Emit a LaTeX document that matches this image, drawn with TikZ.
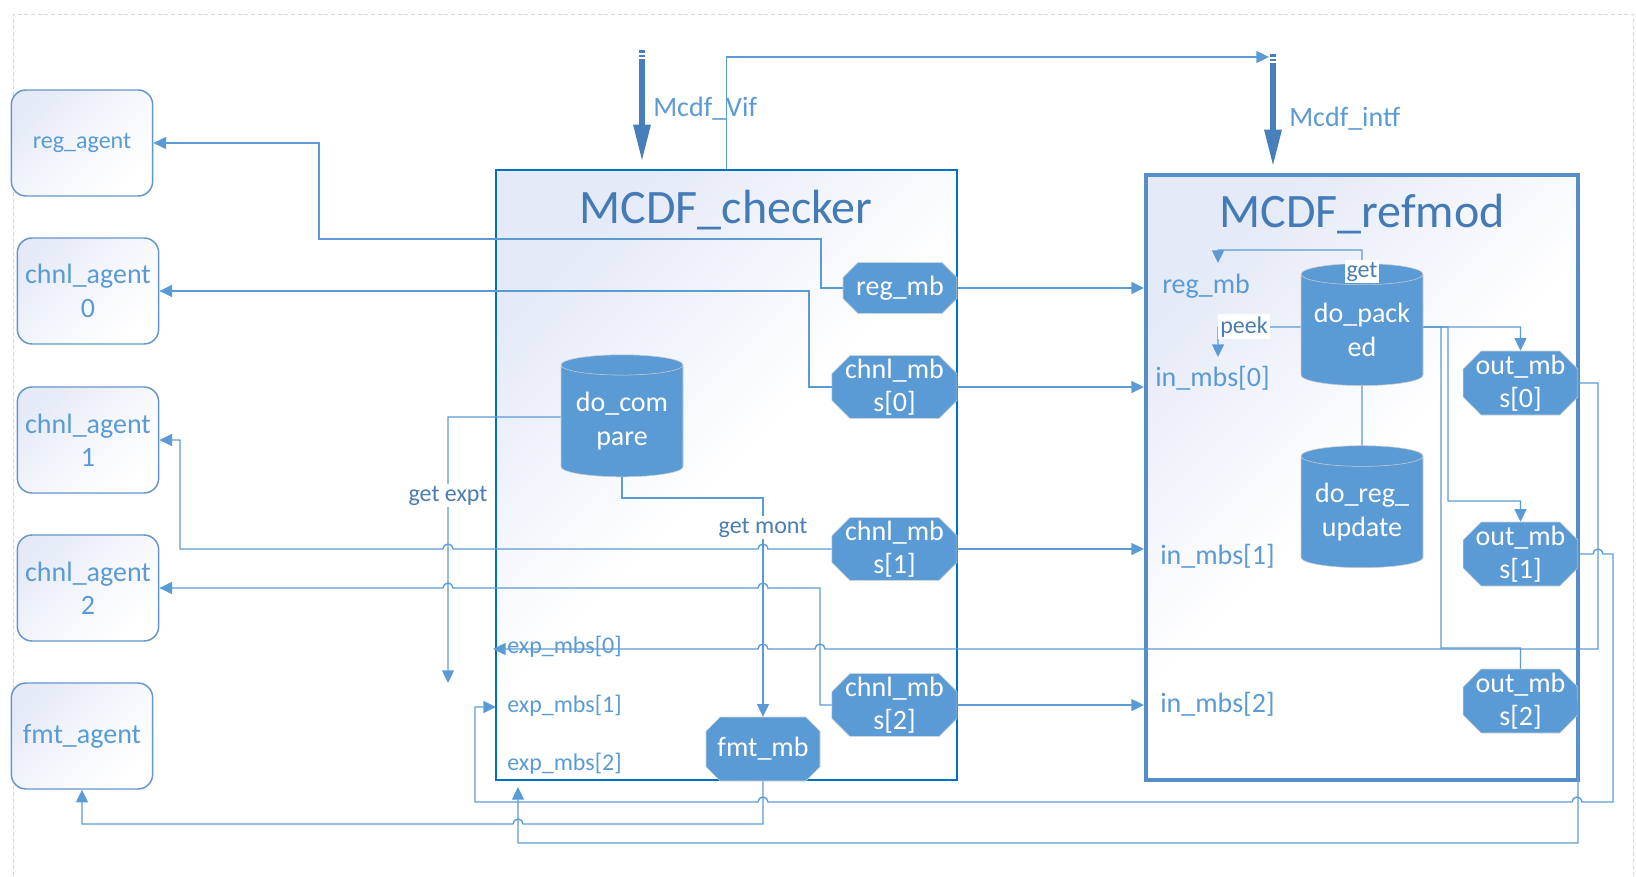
\documentclass[tikz,border=0pt]{standalone}
\usepackage{fontspec}
\setmainfont{Carlito}
\usetikzlibrary{arrows.meta,shapes.geometric,shapes.misc}

\definecolor{lineblue}{RGB}{91,155,213}
\definecolor{boxblue}{RGB}{91,155,213}
\definecolor{titleblue}{RGB}{68,122,182}
\definecolor{chkborder}{RGB}{0,112,192}
\definecolor{refborder}{RGB}{84,141,199}
\definecolor{ifblue}{RGB}{70,127,186}
\definecolor{lavender}{RGB}{228,234,247}
\definecolor{tagblue}{RGB}{75,125,175}
\definecolor{agentline}{RGB}{100,150,205}
\definecolor{framegray}{RGB}{215,215,215}

% little bumps where a line jumps over another one
\newcommand{\hopL}{arc[start angle=0,end angle=180,radius=3.75pt]}
\newcommand{\hopR}{arc[start angle=180,end angle=0,radius=3.75pt]}

\begin{document}
\begin{tikzpicture}[x=0.75pt, y=-0.75pt, line join=miter,
  ftitle/.style={font=\fontsize{36pt}{40pt}\selectfont, text=titleblue, inner sep=0pt},
  fmid/.style={font=\fontsize{21pt}{25pt}\selectfont},
  fsmall/.style={font=\fontsize{18pt}{21pt}\selectfont},
  conn/.style={draw=lineblue, line width=1pt},
  arr/.style={conn, -{Triangle[length=9.5pt,width=9pt]}},
  ifarrow/.style={draw=ifblue, line width=4.5pt, -{Triangle[length=28pt,width=12pt]}},
  agent/.style={draw=agentline, line width=1.1pt, rounded corners=11pt,
    minimum width=106pt, minimum height=79.5pt, top color=lavender,
    bottom color=white, middle color=white!60!lavender, shading angle=45,
    text=lineblue, align=center, inner sep=0pt},
  bigbox/.style={top color=lavender, bottom color=white, middle color=white,
    shading angle=45, inner sep=0pt},
  mbox/.style={chamfered rectangle, chamfered rectangle xsep=6.5pt,
    chamfered rectangle ysep=7pt, fill=boxblue, draw=gray!35, text=white,
    fmid, align=center, inner xsep=0pt, inner ysep=-5pt},
  store/.style={cylinder, shape border rotate=90, aspect=0.22,
    minimum width=91.5pt, minimum height=91.5pt, fill=boxblue, draw=gray!40,
    text=white, fmid, align=center, inner sep=0pt},
  inlabel/.style={fmid, text=lineblue, anchor=base west, inner sep=0pt},
  explabel/.style={fsmall, text=lineblue, anchor=base west, inner sep=0pt},
  tag/.style={fsmall, text=tagblue, fill=white, anchor=base, inner sep=1.5pt}
]
  \useasboundingbox (0,0) rectangle (1636,876);
  \draw[framegray, dash pattern=on 3pt off 2pt, line width=0.6pt]
    (13,876) -- (13,14) -- (1633,14) -- (1633,876);

  % agents
  \node[agent, fsmall] (regag) at (82,143) {reg\_agent};
  \node[agent, fmid] (ag0) at (88,291) {chnl\_agent\\0};
  \node[agent, fmid] (ag1) at (88,440) {chnl\_agent\\1};
  \node[agent, fmid] (ag2) at (88,588) {chnl\_agent\\2};
  \node[agent, fmid] (fmtag) at (82,736) {fmt\_agent};

  % checker and refmod
  \node[bigbox, draw=chkborder, line width=1.8pt, minimum width=345.75pt,
    minimum height=457.5pt] (checker) at (726.5,475) {};
  \node[bigbox, draw=refborder, line width=3pt, minimum width=324pt,
    minimum height=453.75pt] (refmod) at (1362,477.5) {};
  \node[ftitle, anchor=base] (chktitle) at (726,223) {MCDF\_checker};
  \node[ftitle, anchor=base] (reftitle) at (1362,227) {MCDF\_refmod};

  % mailboxes in checker
  \node[mbox, minimum width=85.5pt, minimum height=38pt] (regmb) at (900,288) {reg\_mb};
  \node[mbox, minimum width=94pt, minimum height=47pt] (chmb0) at (894.5,387) {chnl\_mb\\s[0]};
  \node[mbox, minimum width=94pt, minimum height=47pt] (chmb1) at (894.5,549) {chnl\_mb\\s[1]};
  \node[mbox, minimum width=94pt, minimum height=47pt] (chmb2) at (894.5,705) {chnl\_mb\\s[2]};
  \node[mbox, minimum width=85.5pt, minimum height=48pt] (fmtmb) at (763,749) {fmt\_mb};
  \node[store] (docmp) at (622,421) {do\_com\\pare};

  \node[explabel] (exp0) at (507,653) {exp\_mbs[0]};
  \node[explabel] (exp1) at (507,712) {exp\_mbs[1]};
  \node[explabel] (exp2) at (507,770) {exp\_mbs[2]};

  % refmod content
  \node[inlabel] (rregmb) at (1162,293) {reg\_mb};
  \node[inlabel] (in0) at (1155,386) {in\_mbs[0]};
  \node[inlabel] (in1) at (1160,564) {in\_mbs[1]};
  \node[inlabel] (in2) at (1160,712) {in\_mbs[2]};
  \node[store] (dopk) at (1362,330) {do\_pack\\ed};
  \node[store] (doreg) at (1362,512) {do\_reg\_\\update};
  \node[mbox, minimum width=86pt, minimum height=48pt] (outmb0) at (1520.5,383) {out\_mb\\s[0]};
  \node[mbox, minimum width=86pt, minimum height=48pt] (outmb1) at (1520.5,554) {out\_mb\\s[1]};
  \node[mbox, minimum width=86pt, minimum height=48pt] (outmb2) at (1520.5,701) {out\_mb\\s[2]};

  % interfaces
  \draw[ifarrow] (642,50) -- (642,162);
  \draw[white, line width=0.8pt] (638,54) -- (646,54) (638,58) -- (646,58);
  \node[inlabel] (vif) at (653,116) {Mcdf\_Vif};
  \draw[ifarrow] (1273,54) -- (1273,167);
  \draw[white, line width=0.8pt] (1269,58) -- (1277,58) (1269,62) -- (1277,62);
  \node[inlabel] (intf) at (1289,126) {Mcdf\_intf};
  \draw[arr] (checker.north) -- (726.5,57) -- (1269,57);

  % checker -> agents
  \draw[arr] (regmb.west) -- (821,288) -- (821,239) -- (319,239) -- (319,143) -- (regag.east);
  \draw[arr] (chmb0.west) -- (809,387) -- (809,291) -- (ag0.east);
  \draw[arr] (chmb1.west) -- (768,549) \hopL -- (453,549) \hopL -- (180,549) -- (180,440) -- (ag1.east);
  \draw[arr] (chmb2.west) -- (820,705) -- (820,588) -- (768,588) \hopL -- (453,588) \hopL -- (ag2.east);

  % checker -> refmod
  \foreach \n in {regmb,chmb0,chmb1,chmb2}
    \draw[arr] (\n.east) -- (\n.east -| refmod.west);

  % compare
  \draw[arr] ([yshift=3pt]docmp.west) -- (448,417) -- (448,683);
  \node[tag] (gexpt) at (448,501) {get expt};
  \draw[arr] (docmp.south) -- (622,498) -- (763,498) -- (fmtmb.north);
  \node[tag] (gmont) at (763,533) {get mont};
  \draw[arr] (fmtmb.south) -- (763,824) -- (523,824) \hopL -- (82,824) -- (fmtag.south);

  % refmod -> checker
  \draw[arr] (outmb0.east) -- (1598,383) -- (1598,649) -- (825,649) \hopL -- (768,649) \hopL -- (493,649);
  \draw[arr] (outmb1.east) -- (1593,554) \hopR -- (1613,554) -- (1613,802) -- (1582,802) \hopL
    -- (768,802) \hopL -- (475,802) -- (475,707) -- (496,707);
  \draw[arr] (outmb2.east) -- (1578,843) -- (518,843) -- (518,787);

  % inside refmod
  \draw[arr] (dopk.north) -- (1362,250) -- (1218,250) -- (1218,263);
  \node[tag] (tget) at (1362,277) {get};
  \draw[arr] ([yshift=2.25pt]dopk.west) -- (1218,327) -- (1218,357);
  \node[tag] (tpeek) at (1244,333) {peek};
  \draw[conn] (dopk.south) -- (doreg.north);
  \draw[arr] ([yshift=2.25pt]dopk.east) -- (1520.5,327) -- (outmb0.north);
  \draw[arr] ([yshift=2.25pt]dopk.east) -- (1448,327) -- (1448,501) -- (1520.5,501) -- (outmb1.north);
  \draw[conn] ([yshift=2.25pt]dopk.east) -- (1441,327) -- (1441,648) -- (1520.5,648) -- (outmb2.north);

\end{tikzpicture}
\end{document}
